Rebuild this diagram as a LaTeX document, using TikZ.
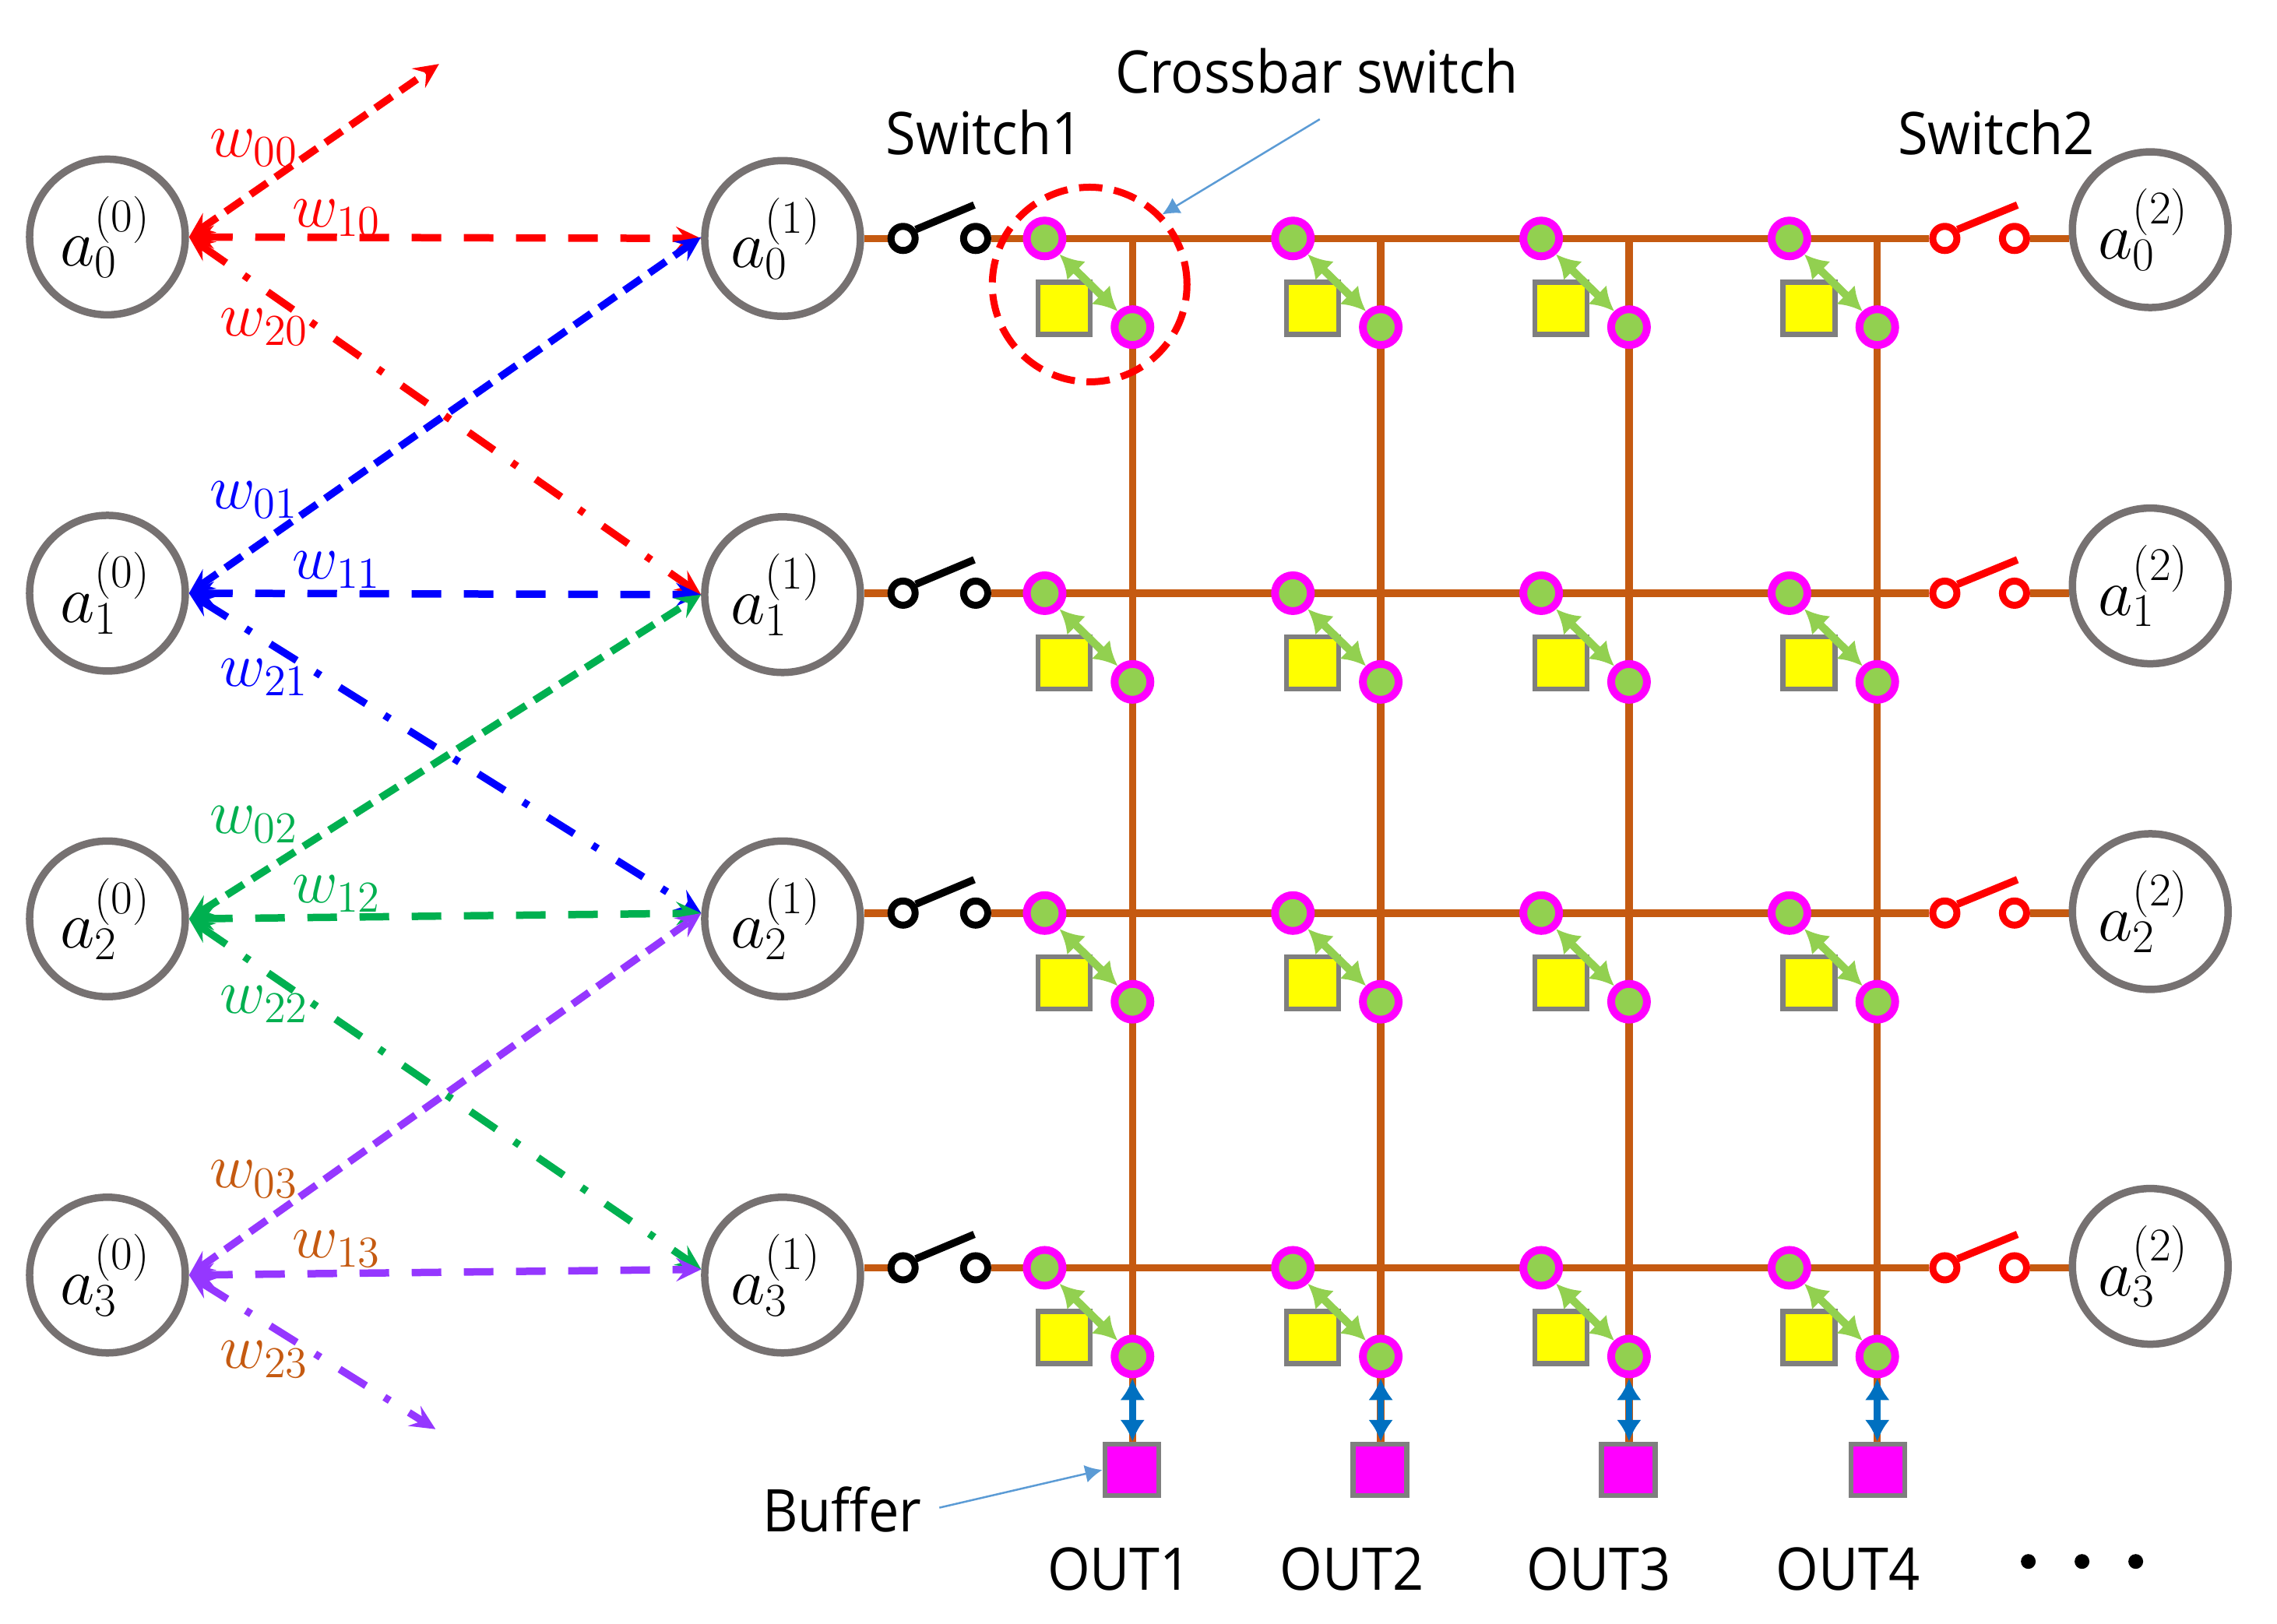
\documentclass[tikz,border=0pt]{standalone}
\usepackage{fix-cm}
\usepackage[no-math]{fontspec}
\usetikzlibrary{arrows.meta,backgrounds}
\newfontfamily\labfont[FakeStretch=0.93]{Open Sans}
\definecolor{wirec}{HTML}{C55A11}
\definecolor{ringc}{HTML}{767171}
\definecolor{greyc}{HTML}{7F7F7F}
\definecolor{grn}{HTML}{00B050}
\definecolor{pur}{HTML}{9537FF}
\definecolor{lgrn}{HTML}{92D050}
\definecolor{dblue}{HTML}{0070C0}
\definecolor{callc}{HTML}{5B9BD5}
\definecolor{magc}{HTML}{FF00FF}
\definecolor{yelc}{HTML}{FFFF00}
\tikzset{
  x=0.018645cm,y=-0.01868cm,
  bigc/.style={circle,draw=ringc,fill=white,line width=.095cm,minimum size=2cm,inner sep=0pt,font=\fontsize{24.5}{28}\selectfont},
  swk/.style={circle,draw=#1,fill=white,line width=.09cm,minimum size=.31cm,inner sep=0pt},
  lever/.style={draw=#1,line width=.095cm},
  wire/.style={draw=wirec,line width=.095cm},
  xnode/.style={circle,draw=magc,fill=lgrn,line width=.1cm,minimum size=.46cm,inner sep=0pt},
  ybox/.style={rectangle,draw=greyc,fill=yelc,line width=.065cm,minimum size=.67cm,inner sep=0pt},
  bbox/.style={rectangle,draw=greyc,fill=magc,line width=.065cm,minimum width=.69cm,minimum height=.66cm,inner sep=0pt},
  garrow/.style={draw=lgrn,fill=lgrn,line width=.1cm,{Latex[length=.3cm,width=.34cm]}-{Latex[length=.3cm,width=.34cm]}},
  barrow/.style={draw=dblue,fill=dblue,line width=.085cm,{Latex[length=.28cm,width=.32cm]}-{Latex[length=.28cm,width=.32cm]}},
  callout/.style={draw=callc,line width=.025cm,-{Latex[length=.22cm,width=.23cm]}},
  wedge/.style={draw=#1,line width=.095cm,{Stealth[length=.32cm,width=.3cm,inset=.12cm]}-{Stealth[length=.32cm,width=.3cm,inset=.12cm]}},
  shortd/.style={wedge=#1,dash pattern=on .26cm off .13cm},
  longd/.style={wedge=#1,dash pattern=on .38cm off .29cm},
  dotd/.style={wedge=#1,dash pattern=on .40cm off .28cm on .08cm off .29cm},
  wlab/.style={text=#1,font=\fontsize{23}{26}\selectfont,inner sep=0pt},
  txt/.style={font=\labfont\fontsize{21.5}{24}\selectfont,inner sep=0pt,text=black},
  dotn/.style={circle,fill=black,minimum size=.19cm,inner sep=0pt}
}
\begin{document}
\begin{tikzpicture}
\useasboundingbox (0,0) rectangle (1568.3,1116.7);
% neuron columns, switches and crossbar nodes, one row at a time
\foreach \r/\ya/\yb/\yc/\yw in {0/163/164/158/164,1/408/409/403/408,2/632/632/627/628,3/877/877/871/872}{
  \node[bigc] (a0\r) at (74,\ya) {\kern-.05cm$a_{\r}^{(0)}$};
  \node[bigc] (a1\r) at (539,\yb) {\kern-.17cm$a_{\r}^{(1)}$};
  \node[bigc] (a2\r) at (1481,\yc) {\kern-.17cm$a_{\r}^{(2)}$};
  \node[swk=black] (sl\r) at (622,\yw) {};
  \node[swk=black] (sr\r) at (672,\yw) {};
  \node[swk=red] (tl\r) at (1339.5,\yw) {};
  \node[swk=red] (tr\r) at (1387.5,\yw) {};
  \coordinate (se\r) at (671,\yw-23);
  \coordinate (te\r) at (1389.5,\yw-23);
  \draw[lever=black] (sl\r.35) -- (se\r);
  \draw[lever=red] (tl\r.35) -- (te\r);
  \begin{pgfonlayer}{background}
    \draw[wire] (a1\r.east |- sl\r) -- (sl\r);
    \draw[wire] (sr\r) -- (tl\r);
    \draw[wire] (tr\r) -- (a2\r.west |- tr\r);
  \end{pgfonlayer}
  \foreach \c/\xu/\xl/\xs in {0/719.5/780/733,1/890.5/951/904,2/1061.5/1122/1075,3/1232.5/1293/1246}{
    \node[ybox] (s\c\r) at (\xs,\yw+48) {};
    \node[xnode] (u\c\r) at (\xu,\yw) {};
    \node[xnode] (v\c\r) at (\xl,\yw+61) {};
  }
}
% vertical wires, buffers
\foreach \c/\xl/\xb in {0/780/779.5,1/951/950.5,2/1122/1121.5,3/1293/1293.5}{
  \coordinate (vt\c) at (\xl,164);
  \node[bbox] (b\c) at (\xb,1011) {};
  \begin{pgfonlayer}{background}
    \draw[wire] (vt\c) -- (vt\c |- b\c.north);
  \end{pgfonlayer}
  \draw[barrow] (v\c3.south) -- (v\c3.south |- b\c.north);
  \foreach \r in {0,1,2,3}{
    \draw[garrow] (u\c\r.-47) -- (v\c\r.133);
  }
}
% crossbar marker
\node[circle,draw=red,line width=.09cm,dash pattern=on .30cm off .15cm,minimum size=2.5cm,inner sep=0pt] (xc) at (750.5,195.7) {};
% weighted connections
\coordinate (up) at (302.4,44);
\coordinate (dn) at (300,983);
\draw[shortd=red] (a00.east) -- (up);
\draw[longd=red] (a00.east) -- (a10.west);
\draw[dotd=red] (a00.east) -- (a11.west);
\draw[shortd=blue] (a01.east) -- (a10.179);
\draw[longd=blue] (a01.east) -- (a11.west);
\draw[dotd=blue] (a01.east) -- (a12.176);
\draw[shortd=grn] (a02.east) -- (a11.west);
\draw[longd=grn] (a02.east) -- (a12.176);
\draw[dotd=grn] (a02.east) -- (a13.176);
\draw[shortd=pur] (a03.east) -- (a12.176);
\draw[longd=pur] (a03.east) -- (a13.176);
\draw[dotd=pur] (a03.east) -- (dn);
% weight labels
\foreach \k/\lab/\col/\ya/\yb/\yc in {0/0/red/102/150/225,1/1/blue/344/392/466,2/2/grn/567/615/691,3/3/wirec/811/859/935}{
  \node[wlab=\col] (w0\k) at (175,\ya) {$w_{0\lab}$};
  \node[wlab=\col] (w1\k) at (232,\yb) {$w_{1\lab}$};
  \node[wlab=\col] (w2\k) at (182,\yc) {$w_{2\lab}$};
}
% text and callouts
\node[txt] (cb) at (907,49) {Crossbar switch};
\coordinate (cstart) at (909,82);
\draw[callout] (cstart) -- (xc.44);
\node[txt] (s1) at (678,91) {Switch1};
\node[txt] (s2) at (1375,91) {Switch2};
\node[txt] (buf) at (580,1038) {Buffer};
\coordinate (bstart) at (647,1037);
\draw[callout] (bstart) -- (b0.west);
\node[txt] (o1) at (771,1079) {OUT1};
\node[txt] (o2) at (931,1079) {OUT2};
\node[txt] (o3) at (1101,1079) {OUT3};
\node[txt] (o4) at (1273,1079) {OUT4};
\node[dotn] (d1) at (1397,1074) {};
\node[dotn] (d2) at (1434,1074) {};
\node[dotn] (d3) at (1471,1074) {};
\end{tikzpicture}
\end{document}
